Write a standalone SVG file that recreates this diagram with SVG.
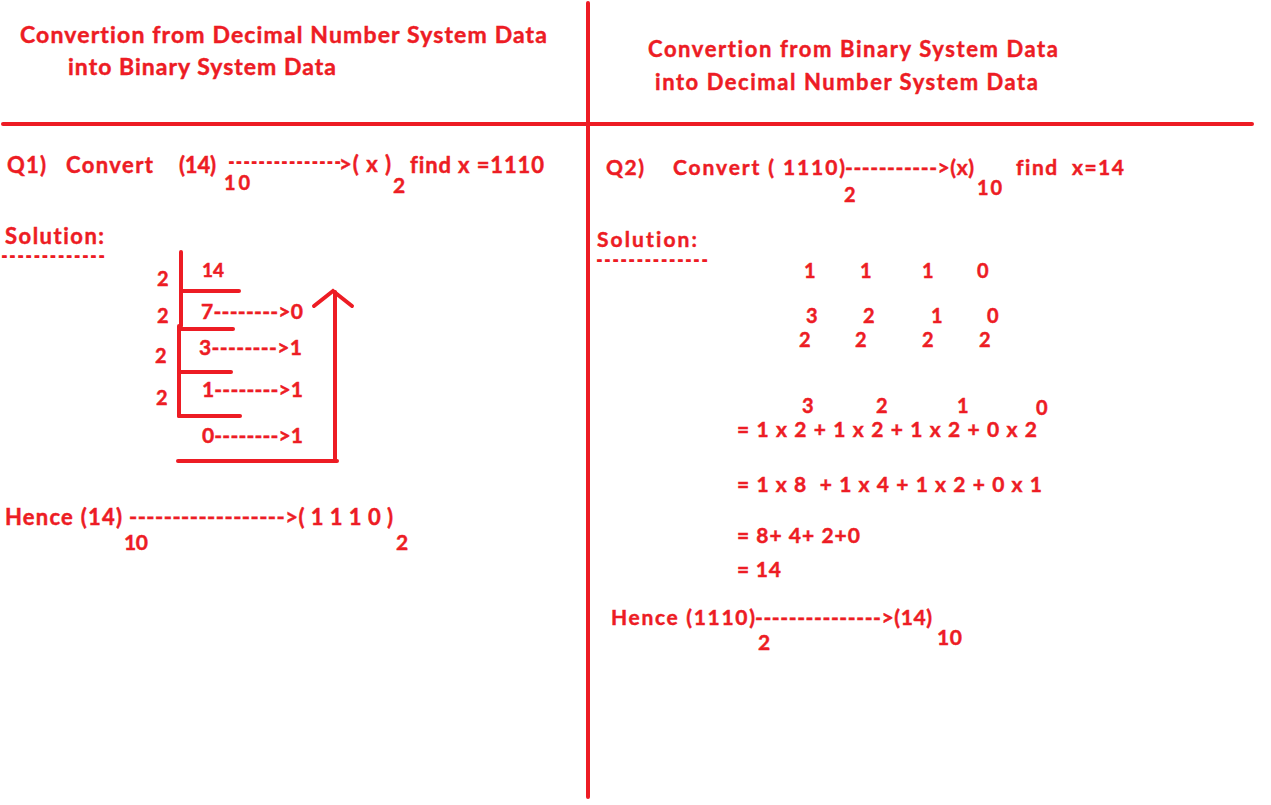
<svg xmlns="http://www.w3.org/2000/svg" width="1271" height="805" viewBox="0 0 1271 805">
<style>
text{font-family:Lato,"Liberation Sans",sans-serif;font-weight:bold;fill:#ED1C24;stroke:#ED1C24;stroke-width:0.45;white-space:pre;font-variant-ligatures:none}
.t23{font-size:23px}.t22{font-size:22px}.t21{font-size:21px}.t20{font-size:20px}.t19{font-size:19px}
.dash{font-size:13px;stroke-width:1.4}
.ln{stroke:#ED1C24;stroke-width:4;stroke-linecap:round;fill:none}
</style>
<rect width="1271" height="805" fill="#fff"/>
<g id="dividers">
<line class="ln" x1="588" y1="3" x2="588" y2="797"/>
<line class="ln" x1="3" y1="124" x2="1252" y2="124"/>
</g>
<g id="left-title">
<text class="t23" x="20" y="43" textLength="527">Convertion from Decimal Number System Data</text>
<text class="t23" x="68" y="75" textLength="268">into Binary System Data</text>
</g>
<g id="q1">
<text class="t22" x="7" y="173" textLength="39">Q1)</text>
<text class="t22" x="66" y="173" textLength="87">Convert</text>
<text class="t22" x="179" y="173" textLength="37">(14)</text>
<text class="t20" x="224" y="190" textLength="26">10</text>
<text class="dash" x="229" y="167" textLength="111">---------------</text>
<text class="t22" x="339" y="172" textLength="52">&gt;( x )</text>
<text class="t21" x="393" y="193" textLength="12">2</text>
<text class="t22" x="410" y="173" textLength="134">find x =1110</text>
</g>
<g id="left-solution">
<text class="t22" x="5" y="244" textLength="99">Solution:</text>
<text class="dash" x="2" y="261" textLength="102">-------------</text>
</g>
<g id="division">
<line class="ln" x1="181" y1="252" x2="181" y2="326"/>
<line class="ln" x1="179" y1="326" x2="179" y2="416"/>
<line class="ln" x1="182" y1="291" x2="239" y2="291"/>
<line class="ln" x1="179" y1="329" x2="233" y2="329"/>
<line class="ln" x1="179" y1="372" x2="231" y2="372"/>
<line class="ln" x1="179" y1="416" x2="240" y2="416"/>
<text class="t20" x="157" y="286">2</text>
<text class="t19" x="202" y="277">14</text>
<text class="t20" x="157" y="323">2</text>
<text class="t21" x="201" y="319" textLength="102">7--------&gt;0</text>
<text class="t20" x="155" y="363">2</text>
<text class="t21" x="199" y="355" textLength="103">3--------&gt;1</text>
<text class="t20" x="156" y="405">2</text>
<text class="t21" x="202" y="397" textLength="101">1--------&gt;1</text>
<text class="t21" x="202" y="443" textLength="101">0--------&gt;1</text>
</g>
<g id="up-arrow">
<line class="ln" x1="178" y1="461" x2="337" y2="461"/>
<line class="ln" x1="335" y1="461" x2="335" y2="292"/>
<polyline class="ln" points="314,306 333,291 352,306"/>
</g>
<g id="left-hence">
<text class="t22" x="5" y="525" textLength="117">Hence (14)</text>
<text class="t21" x="124" y="550" textLength="24">10</text>
<text class="t22" x="129" y="525" textLength="264">------------------&gt;( 1 1 1 0 )</text>
<text class="t21" x="396" y="550" textLength="11">2</text>
</g>
<g id="right-title">
<text class="t22" x="648" y="57" textLength="410">Convertion from Binary System Data</text>
<text class="t22" x="655" y="90" textLength="383">into Decimal Number System Data</text>
</g>
<g id="q2">
<text class="t21" x="606" y="175" textLength="38">Q2)</text>
<text class="t21" x="673" y="175" textLength="172">Convert ( 1110)</text>
<text class="t20" x="844" y="202" textLength="12">2</text>
<text class="t21" x="845" y="175" textLength="129">-----------&gt;(x)</text>
<text class="t20" x="977" y="195" textLength="25">10</text>
<text class="t21" x="1016" y="175" textLength="108">find  x=14</text>
</g>
<g id="right-solution">
<text class="t21" x="597" y="247" textLength="100">Solution:</text>
<text class="dash" x="597" y="265" textLength="110">--------------</text>
</g>
<g id="positions">
<text class="t20" x="804" y="278">1</text>
<text class="t20" x="860" y="278">1</text>
<text class="t20" x="922" y="278">1</text>
<text class="t20" x="977" y="278">0</text>
<text class="t20" x="806" y="323">3</text>
<text class="t20" x="863" y="323">2</text>
<text class="t20" x="931" y="323">1</text>
<text class="t20" x="987" y="323">0</text>
<text class="t20" x="799" y="347">2</text>
<text class="t20" x="855" y="347">2</text>
<text class="t20" x="922" y="347">2</text>
<text class="t20" x="979" y="347">2</text>
</g>
<g id="expansion">
<text class="t20" x="802" y="413">3</text>
<text class="t20" x="876" y="413">2</text>
<text class="t20" x="957" y="413">1</text>
<text class="t20" x="1036" y="415">0</text>
<text class="t21" x="737" y="437" textLength="300">= 1 x 2 + 1 x 2 + 1 x 2 + 0 x 2</text>
<text class="t21" x="737" y="492" textLength="305">= 1 x 8  + 1 x 4 + 1 x 2 + 0 x 1</text>
<text class="t21" x="737" y="543" textLength="123">= 8+ 4+ 2+0</text>
<text class="t21" x="737" y="577" textLength="44">= 14</text>
</g>
<g id="right-hence">
<text class="t21" x="611" y="625" textLength="144">Hence (1110)</text>
<text class="t21" x="758" y="650" textLength="12">2</text>
<text class="t21" x="755" y="625" textLength="177">---------------&gt;(14)</text>
<text class="t21" x="937" y="645" textLength="25">10</text>
</g>
</svg>
